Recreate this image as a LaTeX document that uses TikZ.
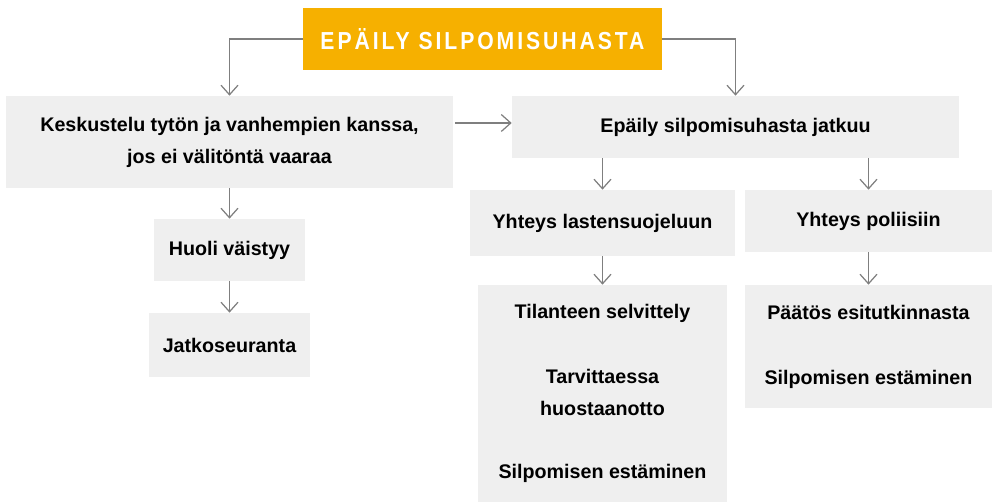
\documentclass[tikz,border=0pt]{standalone}
\usepackage{fontspec}
\setmainfont{Liberation Sans}
\newfontfamily\titlefont{Liberation Sans}[FakeStretch=0.86, LetterSpace=12]
\usepackage{xcolor}
\usepackage{tikz}
\usetikzlibrary{positioning,calc,arrows.meta}

\definecolor{titleorange}{HTML}{F6B000}
\definecolor{boxgray}{HTML}{EFEFEF}
\definecolor{arrowgray}{HTML}{7F7F7F}

\tikzset{
    box/.style={fill=boxgray, inner sep=0pt, align=center,
        font=\fontsize{11.2}{18.2}\selectfont\bfseries},
    titlebox/.style={fill=titleorange, inner sep=0pt, text=white,
        font=\titlefont\fontsize{14}{16}\selectfont\bfseries},
    arr/.style={draw=arrowgray, line width=0.7pt,
        -{Straight Barb[length=1.9mm, width=3.4mm, line width=0.7pt]}}
}

\begin{document}
\begin{tikzpicture}[x=0.02cm, y=-0.02cm]
    \useasboundingbox (0,0) rectangle (992,502);

    % Title
    \node[titlebox, minimum width=7.18cm, minimum height=1.24cm] (title) at (482.5,39) {EPÄILY SILPOMISUHASTA};

    % Left branch
    \node[box, minimum width=8.94cm, minimum height=1.84cm] (talk) at (229.5,142)
        {Keskustelu tytön ja vanhempien kanssa,\\jos ei välitöntä vaaraa};
    \node[box, minimum width=3.04cm, minimum height=1.24cm] (ease) at (229.5,250) {Huoli väistyy};
    \node[box, minimum width=3.22cm, minimum height=1.28cm] (follow) at (229.5,345) {Jatkoseuranta};

    % Right branch
    \node[box, minimum width=8.94cm, minimum height=1.24cm] (cont) at (735.5,127) {Epäily silpomisuhasta jatkuu};
    \node[box, minimum width=5.30cm, minimum height=1.32cm] (child) at (602.5,223) {Yhteys lastensuojeluun};
    \node[box, minimum width=4.94cm, minimum height=1.24cm] (police) at (868.5,221) {Yhteys poliisiin};
    \node[box, minimum width=4.98cm, minimum height=4.34cm] (childact) at (602.5,393.5)
        {Tilanteen selvittely\\[0.66cm]Tarvittaessa\\huostaanotto\\[0.62cm]Silpomisen estäminen};
    \node[box, minimum width=4.94cm, minimum height=2.46cm] (policeact) at (868.5,346.5)
        {Päätös esitutkinnasta\\[0.66cm]Silpomisen estäminen};

    % Connectors
    \draw[arr] (title.west) -| (talk.north);
    \draw[arr] (title.east) -| (cont.north);
    \draw[arr] ($(talk.east |- 0,123) + (2,0)$) -- (cont.west |- 0,123);
    \draw[arr] (cont.south -| child.north) -- (child.north);
    \draw[arr] (cont.south -| police.north) -- (police.north);
    \foreach \a/\b in {talk/ease, ease/follow, child/childact, police/policeact} {
        \draw[arr] (\a.south) -- (\b.north);
    }
\end{tikzpicture}
\end{document}
